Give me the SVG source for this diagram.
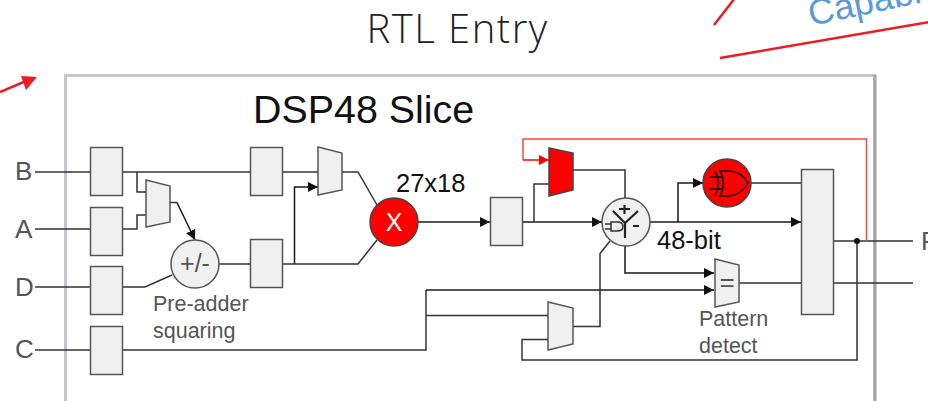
<svg xmlns="http://www.w3.org/2000/svg" width="928" height="401" viewBox="0 0 928 401">
<style>
.w{fill:none;stroke:#333;stroke-width:1.5}
.a{fill:none;stroke:#1a1a1a;stroke-width:1.5;marker-end:url(#ah)}
.b{fill:#f0f0f0;stroke:#555;stroke-width:1.5}
.t{font-family:"Liberation Sans",Arial,sans-serif;fill:#111}
.g{font-family:"Liberation Sans",Arial,sans-serif;fill:#555;font-size:21.500px}
.l{font-family:"Liberation Sans",Arial,sans-serif;fill:#555;font-size:26px}
.r{fill:none;stroke:#ed1c24;stroke-width:2.5}
</style>
<defs>
<marker id="ah" markerUnits="userSpaceOnUse" markerWidth="11" markerHeight="10" refX="10" refY="5" orient="auto"><path d="M0 0L10 5L0 10Z" fill="#111"/></marker>
<marker id="ahr" markerUnits="userSpaceOnUse" markerWidth="11" markerHeight="10" refX="10" refY="5" orient="auto"><path d="M0 0L10 5L0 10Z" fill="#f00"/></marker>
</defs>
<rect width="928" height="401" fill="#fff"/>
<text x="457.500" y="43" text-anchor="middle" font-family="'Open Sans',sans-serif" font-weight="300" font-size="40" letter-spacing="1.500" fill="#222">RTL Entry</text>
<g id="annotations">
<path class="r" d="M0 92L26 81"/><path d="M37 77L21 76L26 90Z" fill="#ed1c24"/>
<path class="r" d="M714 25L735 -2"/><path class="r" d="M720 58L930 22"/>
<text transform="translate(811 26) rotate(-12)" font-family="'Liberation Sans',sans-serif" font-size="36" fill="#5b9bd5">Capabi</text>
</g>
<g id="slice-frame"><rect x="65.500" y="75.500" width="809" height="340" fill="#fff" stroke="#c4c7cc" stroke-width="3"/><path d="M875 75V401" fill="none" stroke="#a3a3a3" stroke-width="3"/><text class="t" x="253" y="123" font-size="39.400">DSP48 Slice</text></g>
<g id="connectors">
<path class="w" d="M35 172H90M122 172H250M283 172H318M342 172H358L377 205M137 172V192H146M122 229H137V215H146M170 202.500H177"/>
<path class="a" d="M177 202.500L195 240"/>
<path class="w" d="M35 229H90M35 287H90M122 287H145L172 275M35 350H90M219 264H250M283 264H358L377 240"/>
<path class="a" d="M294.500 264V187H318"/>
<path class="w" d="M122 350H426V290M426 315.500H548"/>
<path class="a" d="M426 290H714"/>
<path class="a" d="M625 246V273H714"/>
<path class="w" d="M573 326.500H600V253.500L610 241M548 339.500H522V360H857V241"/>
<path class="a" d="M418 222H490"/>
<path class="a" d="M522 222H602"/>
<path class="w" d="M534 222V184H549M573 170H625V198"/>
<path class="a" d="M650 222H801"/>
<path class="a" d="M678 222V183H703"/>
<path class="w" d="M751 183H801M739 283H801M834 241H913M834 283H913"/>
<path d="M866.500 241V139H523V160" fill="none" stroke="#f44" stroke-width="1.500"/>
<path d="M523 160H549" fill="none" stroke="#f00" stroke-width="1.500" marker-end="url(#ahr)"/>
<circle cx="857" cy="241" r="3" fill="#111"/>
</g>
<g id="reg-b"><rect class="b" x="90.500" y="147.500" width="32" height="48"/></g>
<g id="reg-a"><rect class="b" x="90.500" y="207.500" width="32" height="48"/></g>
<g id="reg-d"><rect class="b" x="90.500" y="266.500" width="32" height="48"/></g>
<g id="reg-c"><rect class="b" x="90.500" y="326.500" width="32" height="48"/></g>
<g id="reg-b2"><rect class="b" x="250.500" y="147.500" width="32" height="48"/></g>
<g id="reg-ad"><rect class="b" x="250.500" y="239.500" width="32" height="48"/></g>
<g id="reg-m"><rect class="b" x="490.500" y="197.500" width="32" height="48"/></g>
<g id="reg-out"><rect class="b" x="801.500" y="169.500" width="32" height="145"/></g>
<g id="mux-ad"><path class="b" d="M146 180L170 186V222L146 227Z"/></g>
<g id="mux-b"><path class="b" d="M318 147L342 153V190L318 195Z"/></g>
<g id="mux-red"><path d="M549 148L573 153V190L549 196Z" fill="#f00" stroke="#444" stroke-width="1.500"/></g>
<g id="mux-c"><path class="b" d="M548 302L573 308V344L548 350Z"/></g>
<g id="mux-eq"><path class="b" d="M715 259L739 265V302L715 307Z"/><text x="727" y="291" text-anchor="middle" class="l">=</text></g>
<g id="pre-adder"><circle class="b" cx="195" cy="264" r="24"/><text class="l" x="195" y="272" style="font-size:25px" text-anchor="middle">+/-</text></g>
<g id="mult"><circle cx="394" cy="222" r="24" fill="#f00" stroke="#444" stroke-width="1.500"/><text x="394" y="231" text-anchor="middle" font-family="'Liberation Sans',sans-serif" font-size="25" fill="#fff">X</text></g>
<g id="alu"><circle class="b" cx="626" cy="222" r="24"/>
<path d="M613 211L625 223L638 211M625 223V238M619 209H630M624.500 205V214M633 226H639" fill="none" stroke="#222" stroke-width="2.200"/>
<path d="M605 224H611M605 229H611M611 222H617Q623 222 623 226.500Q623 231 617 231H611Z" fill="none" stroke="#333" stroke-width="1.500"/></g>
<g id="xor"><circle cx="727" cy="183" r="24" fill="#f00" stroke="#444" stroke-width="1.500"/>
<path d="M720 171H730Q742 172 748 183Q742 194 730 196H720Q727 183 720 171ZM715 171Q722 183 715 196M710 177H722M710 189H722" fill="none" stroke="#111" stroke-width="1.500"/></g>
<g id="labels">
<text class="l" x="15" y="180">B</text>
<text class="l" x="15" y="238">A</text>
<text class="l" x="15" y="296">D</text>
<text class="l" x="15" y="358">C</text>
<text class="l" x="921" y="250">P</text>
<text class="t" x="396" y="192" font-size="25.500">27x18</text>
<text class="t" x="657" y="249" font-size="25.500">48-bit</text>
<text class="g" x="153" y="311">Pre-adder</text>
<text class="g" x="153" y="338">squaring</text>
<text class="g" x="699" y="326">Pattern</text>
<text class="g" x="699" y="353">detect</text>
</g>
</svg>
